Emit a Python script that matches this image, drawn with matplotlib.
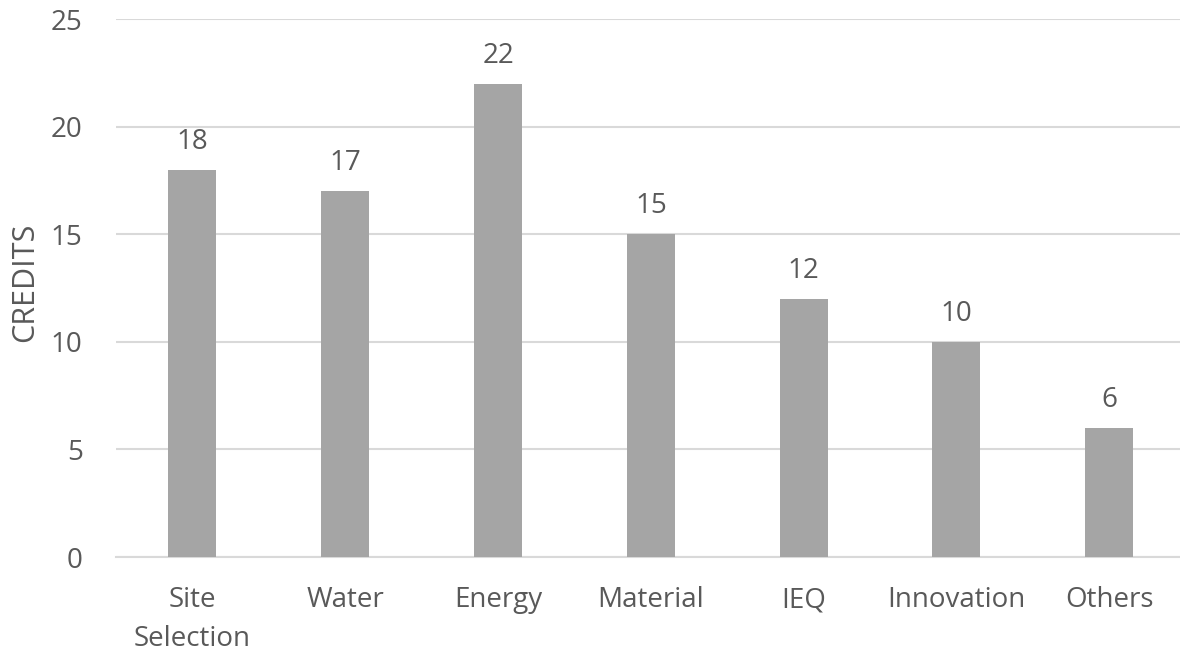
import matplotlib
matplotlib.use("Agg")
import matplotlib.pyplot as plt

categories = ["Site\nSelection", "Water", "Energy", "Material", "IEQ", "Innovation", "Others"]
credits = [18, 17, 22, 15, 12, 10, 6]

plt.rcParams["font.family"] = ["Open Sans", "DejaVu Sans"]
text_col = "#595959"

fig = plt.figure(figsize=(11.8, 6.53), dpi=100)
ax = fig.add_axes([116 / 1180, 96 / 653, 1064 / 1180, 538 / 653])

x = range(len(categories))
bars = ax.bar(x, credits, width=0.314, color="#A5A5A5", zorder=3)

for b, v in zip(bars, credits):
    ax.annotate(str(v), (b.get_x() + b.get_width() / 2, v), xytext=(0, 10),
                textcoords="offset points", ha="center", va="bottom",
                fontsize=20, color=text_col)

ax.set_xlim(-0.5, 6.463)
ax.set_ylim(0, 25)
ax.set_yticks(range(0, 26, 5))
ax.set_xticks(list(x))
ax.set_xticklabels(categories, fontsize=20, color=text_col, linespacing=1.5)
ax.tick_params(axis="y", labelsize=20, labelcolor=text_col, length=0, pad=24)
ax.tick_params(axis="x", length=0, pad=21)
ax.grid(axis="y", color="#D9D9D9", linewidth=1.5, zorder=0)
for s in ["top", "right", "left"]:
    ax.spines[s].set_visible(False)
ax.spines["bottom"].set_color("#D9D9D9")
ax.spines["bottom"].set_linewidth(1.5)

ax.set_ylabel("CREDITS", fontsize=22, color=text_col)
ax.yaxis.set_label_coords(-0.071, 0.511)

fig.savefig("out.png", dpi=100)
